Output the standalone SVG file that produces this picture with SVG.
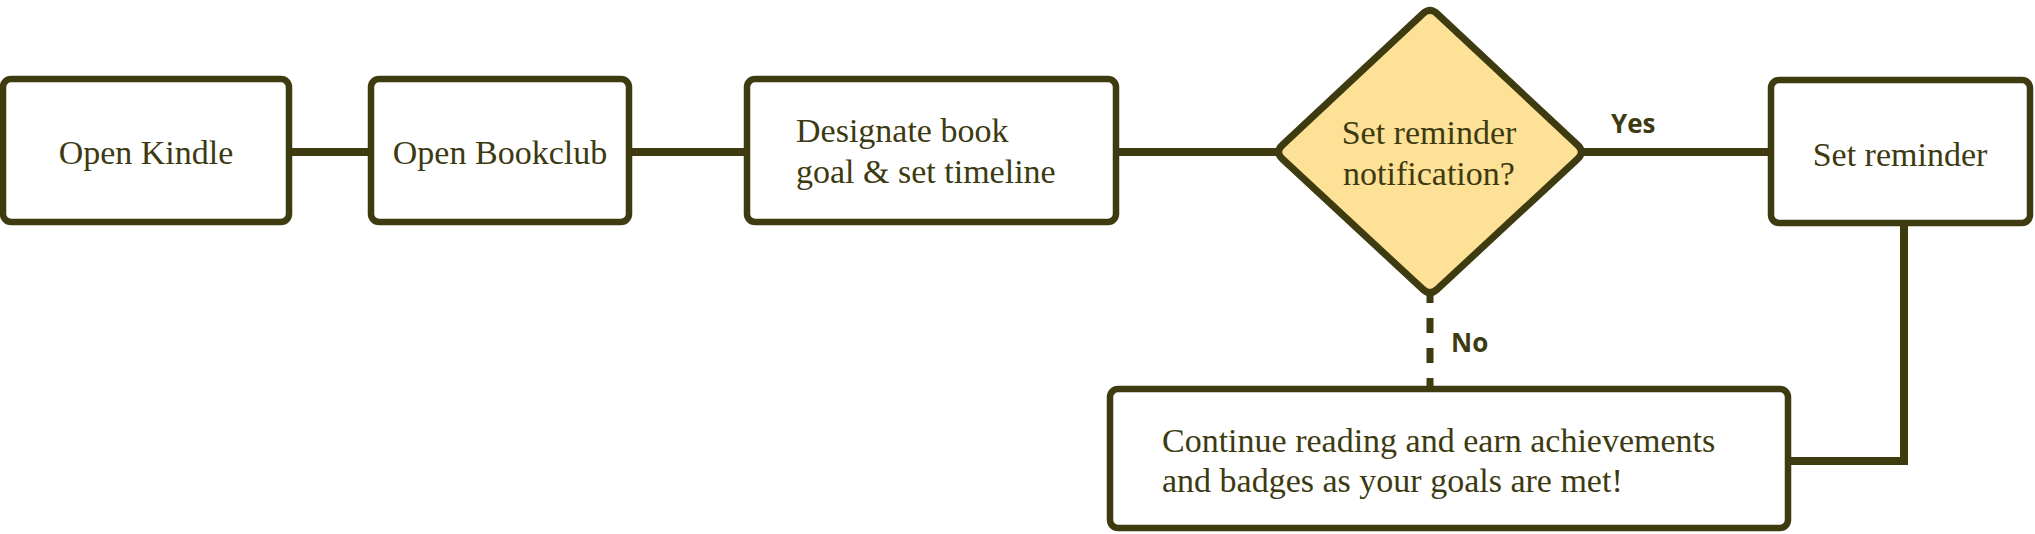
<svg xmlns="http://www.w3.org/2000/svg" width="2035" height="534" viewBox="0 0 2035 534">
<style>
.box{fill:#ffffff;stroke:#3f3b10;stroke-width:6.5}
.dia{fill:#fde196;stroke:#3f3b10;stroke-width:7;stroke-linejoin:round}
.con{fill:none;stroke:#3f3b10;stroke-width:8;stroke-linejoin:miter}
.dash{fill:none;stroke:#3f3b10;stroke-width:7;stroke-dasharray:15 15}
.t{font-family:"Liberation Serif","DejaVu Serif",serif;font-size:34px;fill:#3d3a12}
.lbl{font-family:"Open Sans","Noto Sans",sans-serif;font-size:26px;font-weight:700;fill:#3d3a12}
</style>
<rect width="2035" height="534" fill="#ffffff"/>
<g id="connectors">
<line class="con" x1="289" y1="152" x2="371" y2="152"/>
<line class="con" x1="629" y1="152" x2="747" y2="152"/>
<line class="con" x1="1116" y1="152" x2="1278" y2="152"/>
<line class="con" x1="1582" y1="152" x2="1771" y2="152"/>
<polyline class="con" points="1904,223 1904,461 1788,461"/>
<line class="dash" x1="1430" y1="288" x2="1430" y2="389"/>
<text class="lbl" x="1611" y="133">Yes</text>
<text class="lbl" x="1451" y="352">No</text>
</g>
<g id="open-kindle">
<rect class="box" x="3" y="79" width="286" height="143" rx="8"/>
<text class="t" x="146" y="164" text-anchor="middle">Open Kindle</text>
</g>
<g id="open-bookclub">
<rect class="box" x="371" y="79" width="258" height="143" rx="8"/>
<text class="t" x="500" y="164" text-anchor="middle">Open Bookclub</text>
</g>
<g id="designate">
<rect class="box" x="747" y="79" width="369" height="143" rx="8"/>
<text class="t" x="796" y="142">Designate book</text>
<text class="t" x="796" y="183">goal &amp; set timeline</text>
</g>
<g id="decision">
<path class="dia" d="M1422.7,13.85 Q1430,7 1437.3,13.85 L1577.7,145.15 Q1585,152 1577.7,158.85 L1437.3,289.15 Q1430,296 1422.7,289.15 L1282.3,158.85 Q1275,152 1282.3,145.15 Z"/>
<text class="t" x="1429" y="144" text-anchor="middle">Set reminder</text>
<text class="t" x="1429" y="185" text-anchor="middle">notification?</text>
</g>
<g id="set-reminder">
<rect class="box" x="1771" y="80" width="259" height="143" rx="8"/>
<text class="t" x="1900" y="166" text-anchor="middle">Set reminder</text>
</g>
<g id="continue-reading">
<rect class="box" x="1110" y="389" width="678" height="139" rx="8"/>
<text class="t" x="1162" y="452">Continue reading and earn achievements</text>
<text class="t" x="1162" y="492">and badges as your goals are met!</text>
</g>
</svg>
